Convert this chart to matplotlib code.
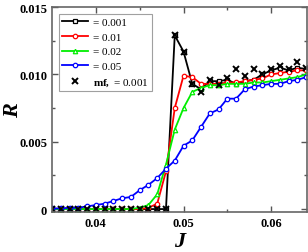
import matplotlib
matplotlib.use("Agg")
import matplotlib.pyplot as plt
from matplotlib.ticker import FixedLocator

plt.rcParams['font.family'] = ['Liberation Serif', 'DejaVu Serif']
plt.rcParams['mathtext.fontset'] = 'custom'
plt.rcParams['mathtext.rm'] = 'Liberation Serif'
plt.rcParams['mathtext.bf'] = 'Liberation Serif:bold'
plt.rcParams['mathtext.it'] = 'Liberation Serif:italic'

J = [0.035, 0.036, 0.037, 0.038, 0.039, 0.040, 0.041, 0.042, 0.043, 0.044,
     0.045, 0.046, 0.047, 0.048, 0.049, 0.050, 0.051, 0.052, 0.053, 0.054,
     0.055, 0.056, 0.057, 0.058, 0.059, 0.060, 0.061, 0.062, 0.063, 0.064]

r_001 = [0, 0, 0, 0, 0, 0, 0, 0, 0, 0,
         0, 0, 0, 0, 0.0129, 0.0117, 0.0093, 0.0089, 0.0095, 0.0095,
         0.0096, 0.0093, 0.0095, 0.0096, 0.0100, 0.0103, 0.0105, 0.0103, 0.0105, 0.0104]
r_01 = [0, 0, 0, 0, 0, 0, 0, 0, 0, 0,
        0, 0.0001, 0.0004, 0.0028, 0.0075, 0.0099, 0.0098, 0.0093, 0.0093, 0.0093,
        0.0094, 0.0094, 0.0095, 0.0096, 0.0097, 0.0100, 0.0101, 0.0102, 0.0103, 0.0103]
r_02 = [0, 0, 0, 0, 0, 0, 0, 0, 0, 0,
        0.0001, 0.0003, 0.0011, 0.0033, 0.0059, 0.0075, 0.0087, 0.0090, 0.0092, 0.0092,
        0.0093, 0.0093, 0.0093, 0.0094, 0.0094, 0.0095, 0.0096, 0.0097, 0.0098, 0.0100]
r_05 = [0.00005, 0.00005, 0.0001, 0.0001, 0.0002, 0.0003, 0.0004, 0.0006, 0.0008, 0.0009,
        0.0014, 0.0018, 0.0023, 0.0030, 0.0036, 0.0047, 0.0051, 0.0061, 0.0071, 0.0074,
        0.0082, 0.0082, 0.0089, 0.0091, 0.0092, 0.0093, 0.0093, 0.0095, 0.0096, 0.0098]
r_mf = [0, 0, 0, 0, 0, 0, 0, 0, 0, 0,
        0, 0, 0, 0, 0.0129, 0.0117, 0.0093, 0.0087, 0.0096, 0.0092,
        0.0097, 0.0104, 0.0099, 0.0104, 0.0100, 0.0104, 0.0106, 0.0104, 0.0109, 0.0105]

fig = plt.figure(figsize=(3.08, 2.53), dpi=100)
ax = fig.add_axes([0.169, 0.158, 0.828, 0.81])

style = dict(lw=1.3, markersize=3.2, markerfacecolor='white', markeredgewidth=0.9)
ax.plot(J, r_001, color='black', marker='s', markersize=2.4, lw=1.3,
        markerfacecolor='white', markeredgewidth=0.9, label='= 0.001')
ax.plot(J, r_01, color='#ff0000', marker='o', label='= 0.01', **style)
ax.plot(J, r_02, color='#00ee00', marker='^', label='= 0.02', **style)
ax.plot(J, r_05, color='#0000ff', marker='o', label='= 0.05', **style)
ax.plot(J, r_mf, color='black', marker='x', ls='none', markersize=4.5,
        markeredgewidth=1.4, label=r'$\mathbf{mf,}$ = 0.001')

ax.set_xlim(0.035, 0.0641)
ax.set_ylim(-0.00022, 0.015)

ax.xaxis.set_major_locator(FixedLocator([0.04, 0.05, 0.06]))
ax.xaxis.set_minor_locator(FixedLocator([0.045, 0.055]))
ax.yaxis.set_major_locator(FixedLocator([0, 0.005, 0.010, 0.015]))
ax.yaxis.set_minor_locator(FixedLocator([0.0025, 0.0075, 0.0125]))
ax.set_xticklabels(['0.04', '0.05', '0.06'])
ax.set_yticklabels(['0', '0.005', '0.010', '0.015'])

ax.tick_params(which='both', direction='in', top=True, right=True,
               labelsize=9, color='#555555')
ax.tick_params(which='major', length=4, width=1)
ax.tick_params(which='minor', length=2.5, width=1)
for lab in ax.get_xticklabels() + ax.get_yticklabels():
    lab.set_fontweight('bold')

for sp in ax.spines.values():
    sp.set_color('#666666')
    sp.set_linewidth(1.2)

ax.set_xlabel('J', fontsize=16, fontweight='bold', fontstyle='italic')
ax.set_ylabel('R', fontsize=16, fontweight='bold', fontstyle='italic')
ax.xaxis.set_label_coords(0.5, -0.095)
ax.yaxis.set_label_coords(-0.115, 0.5)

leg = ax.legend(loc='upper left', fontsize=8, frameon=True, fancybox=False,
                edgecolor='#888888', borderaxespad=0.6, handlelength=2.3,
                numpoints=1, labelspacing=0.45, borderpad=0.3, handletextpad=0.5)
leg.get_frame().set_linewidth(0.8)

fig.savefig('out.png', dpi=100)
